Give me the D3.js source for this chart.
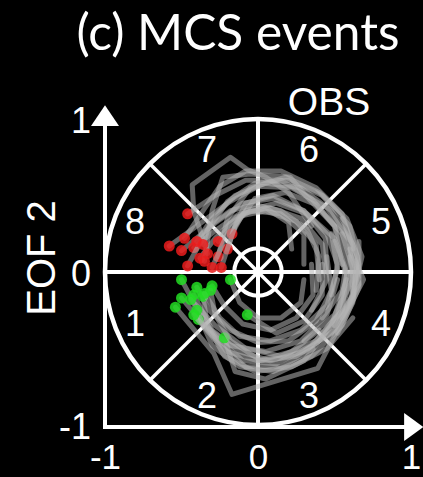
<!DOCTYPE html>
<html>
<head>
<meta charset="utf-8">
<script src="https://cdn.jsdelivr.net/npm/d3@7"></script>
<style>
  html, body { margin: 0; padding: 0; background: #000; }
  svg { display: block; }
</style>
</head>
<body>
<svg id="chart" width="423" height="477"></svg>
<script>
// ---- data ---------------------------------------------------------------
const titleText = "(c) MCS events";
const panelText = "OBS";
const yLabelText = "EOF 2";
const xTicks = [-1, 0, 1];
const yTicks = [-1, 0, 1];
const phaseLabels = ["1", "2", "3", "4", "5", "6", "7", "8"];
const innerRadius = 0.155;

// RMM trajectories (EOF1, EOF2), one per event; the last point is the event day.
// Events whose last day falls in phase 8
const tracksPhase8 = [
  [[0.42,-0.30],[0.55,-0.12],[0.58,0.08],[0.50,0.30],[0.35,0.48],[0.15,0.60],[-0.08,0.60],[-0.28,0.50],[-0.46,0.38]],
  [[0.30,-0.45],[0.50,-0.28],[0.62,-0.05],[0.60,0.20],[0.45,0.42],[0.22,0.55],[0.00,0.56],[-0.20,0.45],[-0.40,0.30],[-0.58,0.17]],
  [[0.48,-0.15],[0.52,0.05],[0.45,0.25],[0.30,0.40],[0.10,0.48],[-0.10,0.45],[-0.28,0.32],[-0.50,0.14]],
  [[0.35,-0.25],[0.45,-0.05],[0.42,0.18],[0.28,0.35],[0.08,0.42],[-0.12,0.38],[-0.28,0.27],[-0.42,0.16]],
  [[0.60,-0.20],[0.66,0.05],[0.60,0.30],[0.42,0.50],[0.20,0.60],[-0.02,0.58],[-0.20,0.46],[-0.34,0.26],[-0.46,0.04]],
  [[0.40,-0.05],[0.38,0.18],[0.25,0.33],[0.05,0.40],[-0.14,0.36],[-0.28,0.22],[-0.38,0.09]],
  [[0.55,0.05],[0.50,0.30],[0.32,0.49],[0.21,0.62],[-0.05,0.64],[-0.23,0.62],[-0.30,0.40],[-0.35,0.07]],
  [[0.35,0.30],[0.20,0.52],[0.05,0.62],[-0.07,0.67],[-0.18,0.75],[-0.43,0.57],[-0.42,0.40],[-0.33,0.12]],
  [[0.50,-0.35],[0.62,-0.15],[0.68,0.10],[0.58,0.35],[0.40,0.52],[0.18,0.62],[-0.05,0.55],[-0.20,0.35],[-0.26,0.10]],
  [[0.30,0.05],[0.30,0.25],[0.15,0.38],[-0.05,0.40],[-0.18,0.32],[-0.26,0.20]],
  [[0.45,0.00],[0.44,0.22],[0.30,0.40],[0.10,0.50],[-0.08,0.45],[-0.15,0.30],[-0.20,0.15]],
  [[0.22,0.15],[0.20,0.32],[0.05,0.42],[-0.10,0.38],[-0.17,0.25]],
  [[0.52,-0.40],[0.62,-0.20],[0.64,0.02],[0.55,0.25],[0.38,0.44],[0.18,0.52],[-0.02,0.48],[-0.15,0.30],[-0.24,0.03]],
  [[0.40,-0.45],[0.55,-0.25],[0.58,0.00],[0.50,0.22],[0.32,0.38],[0.12,0.45],[-0.08,0.40],[-0.20,0.25],[-0.30,0.03]],
  [[0.55,-0.30],[0.66,-0.08],[0.62,0.18],[0.48,0.40],[0.28,0.55],[0.05,0.58],[-0.15,0.50],[-0.30,0.35],[-0.40,0.20]],
  [[0.38,-0.12],[0.40,0.10],[0.32,0.28],[0.15,0.40],[-0.02,0.44],[-0.18,0.40],[-0.32,0.30],[-0.36,0.18]],
  [[0.62,0.15],[0.55,0.38],[0.38,0.55],[0.15,0.66],[-0.08,0.66],[-0.25,0.56],[-0.36,0.40],[-0.48,0.22]]
];
// Events whose last day falls in phase 1
const tracksPhase1 = [
  [[0.55,0.25],[0.62,0.02],[0.55,-0.25],[0.38,-0.45],[0.15,-0.55],[-0.08,-0.50],[-0.28,-0.35],[-0.42,-0.20],[-0.50,-0.05]],
  [[0.45,0.10],[0.48,-0.12],[0.38,-0.32],[0.20,-0.45],[0.00,-0.46],[-0.18,-0.38],[-0.32,-0.25],[-0.40,-0.10]],
  [[0.35,0.05],[0.36,-0.15],[0.25,-0.30],[0.08,-0.38],[-0.10,-0.34],[-0.22,-0.22],[-0.30,-0.09]],
  [[0.60,0.10],[0.62,-0.15],[0.50,-0.38],[0.30,-0.52],[0.08,-0.58],[-0.12,-0.52],[-0.30,-0.38],[-0.42,-0.15]],
  [[0.52,-0.05],[0.45,-0.28],[0.28,-0.45],[0.05,-0.52],[-0.18,-0.48],[-0.35,-0.35],[-0.50,-0.17]],
  [[0.60,0.15],[0.69,-0.05],[0.39,-0.63],[-0.17,-0.80],[-0.29,-0.53],[-0.54,-0.23]],
  [[0.50,0.20],[0.58,-0.02],[0.52,-0.28],[0.35,-0.48],[0.12,-0.60],[-0.10,-0.58],[-0.28,-0.42],[-0.44,-0.18]],
  [[0.30,-0.05],[0.28,-0.20],[0.15,-0.30],[0.00,-0.30],[-0.12,-0.20],[-0.18,-0.05]],
  [[0.62,-0.30],[0.45,-0.50],[0.22,-0.62],[-0.02,-0.65],[-0.22,-0.55],[-0.33,-0.35],[-0.36,-0.16]],
  [[0.40,-0.38],[0.22,-0.52],[0.00,-0.58],[-0.20,-0.52],[-0.39,-0.31]],
  [[0.58,-0.05],[0.48,-0.35],[0.30,-0.58],[0.05,-0.70],[-0.15,-0.65],[-0.22,-0.43]],
  [[0.42,0.05],[0.42,-0.15],[0.30,-0.32],[0.12,-0.40],[-0.07,-0.28]],
  [[0.55,0.35],[0.65,0.10],[0.62,-0.18],[0.48,-0.40],[0.25,-0.55],[0.02,-0.58],[-0.18,-0.45],[-0.28,-0.28],[-0.31,-0.12]],
  [[0.66,0.20],[0.66,-0.10],[0.55,-0.35],[0.35,-0.55],[0.10,-0.65],[-0.12,-0.62],[-0.30,-0.48],[-0.40,-0.25]],
  [[0.48,0.25],[0.52,0.02],[0.45,-0.22],[0.28,-0.38],[0.08,-0.45],[-0.12,-0.42],[-0.25,-0.30],[-0.35,-0.14]],
  [[0.36,-0.50],[0.15,-0.62],[-0.08,-0.62],[-0.25,-0.48],[-0.42,-0.28]]
];

// ---- layout -------------------------------------------------------------
const svg = d3.select("#chart");
svg.append("rect").attr("width", 423).attr("height", 477).attr("fill", "#000");

const x = d3.scaleLinear().domain([-1, 1]).range([105, 411]);
const y = d3.scaleLinear().domain([-1, 1]).range([425, 119]);
const r = v => x(v) - x(0);            // data radius -> pixels
const white = "#ffffff";
const tickFont = "'Liberation Sans', Arial, Helvetica, sans-serif";
const plainNumber = d => String(d);    // ASCII hyphen for negatives

// Title
const title = svg.append("text")
  .attr("x", 238).attr("y", 50)
  .attr("text-anchor", "middle")
  .attr("fill", white)
  .style("font-family", "Lato, 'Open Sans', sans-serif")
  .style("font-size", "40px")
  .text(titleText);
const tw = title.node().getComputedTextLength();
title.style("font-size", (40 * 323 / tw) + "px");

// Panel label
svg.append("text")
  .attr("x", 329).attr("y", 115)
  .attr("text-anchor", "middle")
  .attr("fill", white)
  .style("font-family", tickFont)
  .style("font-size", "39px")
  .text(panelText);

// Outer amplitude circle
svg.append("circle")
  .attr("cx", x(0)).attr("cy", y(0)).attr("r", r(1))
  .attr("fill", "none").attr("stroke", white).attr("stroke-width", 4.5);

// Phase boundaries: diameters every 45 degrees
const spokes = d3.range(4).map(i => i * Math.PI / 4);
svg.append("g").selectAll("line").data(spokes).join("line")
  .attr("x1", a => x(Math.cos(a))).attr("y1", a => y(Math.sin(a)))
  .attr("x2", a => x(-Math.cos(a))).attr("y2", a => y(-Math.sin(a)))
  .attr("stroke", white)
  .attr("stroke-width", (a, i) => (i % 2 === 0 ? 4 : 3.5));

// Inner circle
svg.append("circle")
  .attr("cx", x(0)).attr("cy", y(0)).attr("r", r(innerRadius))
  .attr("fill", "none").attr("stroke", white).attr("stroke-width", 4);

// Phase numbers at the middle of each sector
const labelR = 0.87;
svg.append("g").selectAll("text").data(phaseLabels).join("text")
  .attr("x", (d, i) => x(labelR * Math.cos((202.5 + 45 * i) * Math.PI / 180)))
  .attr("y", (d, i) => y(labelR * Math.sin((202.5 + 45 * i) * Math.PI / 180)))
  .attr("dy", "0.36em")
  .attr("text-anchor", "middle")
  .attr("fill", white)
  .style("font-family", tickFont)
  .style("font-size", "36px")
  .text(d => d);

// Trajectories with the event day marked
const line = d3.line().x(d => x(d[0])).y(d => y(d[1]));
const trackLayer = svg.append("g");
function drawTracks(tracks, color) {
  tracks.forEach(t => {
    trackLayer.append("path")
      .attr("d", line(t))
      .attr("fill", "none")
      .attr("stroke", "#b4b4b4")
      .attr("stroke-opacity", 0.55)
      .attr("stroke-width", 5)
      .attr("stroke-linejoin", "round")
      .attr("stroke-linecap", "round");
    const e = t[t.length - 1];
    trackLayer.append("circle")
      .attr("cx", x(e[0])).attr("cy", y(e[1])).attr("r", 5.5)
      .attr("fill", color).attr("fill-opacity", 0.85);
  });
}
drawTracks(tracksPhase8, "#ea1c1c");
drawTracks(tracksPhase1, "#22dd22");

// Axes with arrow heads
const axisColor = white;
const xAxis = svg.append("g")
  .attr("transform", `translate(0,${y(-1) + 2})`)
  .call(d3.axisBottom(x).tickValues(xTicks).tickSize(0).tickFormat(plainNumber));
xAxis.select(".domain").remove();
xAxis.selectAll("text")
  .attr("y", 42).attr("dy", 0)
  .attr("fill", white)
  .style("font-family", tickFont)
  .style("font-size", "35px");

const yAxis = svg.append("g")
  .attr("transform", `translate(${x(-1)},0)`)
  .call(d3.axisLeft(y).tickValues(yTicks).tickSize(0).tickFormat(plainNumber));
yAxis.select(".domain").remove();
yAxis.selectAll("text")
  .attr("x", -14).attr("dy", "0.38em")
  .attr("fill", white)
  .style("font-family", tickFont)
  .style("font-size", "36px");

const ax0 = x(-1), ay0 = y(-1) + 2;
svg.append("line")
  .attr("x1", ax0).attr("y1", ay0).attr("x2", x(0.97)).attr("y2", ay0)
  .attr("stroke", axisColor).attr("stroke-width", 4);
svg.append("line")
  .attr("x1", ax0).attr("y1", ay0 + 2).attr("x2", ax0).attr("y2", y(0.97))
  .attr("stroke", axisColor).attr("stroke-width", 4);
svg.append("path")
  .attr("d", `M${x(1.08)},${ay0} L${x(0.955)},${ay0 - 14} L${x(0.955)},${ay0 + 14} Z`)
  .attr("fill", axisColor);
svg.append("path")
  .attr("d", `M${ax0},${y(1.09)} L${ax0 - 14},${y(0.955)} L${ax0 + 14},${y(0.955)} Z`)
  .attr("fill", axisColor);

// y-axis label
svg.append("text")
  .attr("transform", "translate(55,258) rotate(-90)")
  .attr("text-anchor", "middle")
  .attr("fill", white)
  .style("font-family", tickFont)
  .style("font-size", "40px")
  .text(yLabelText);
</script>
</body>
</html>
